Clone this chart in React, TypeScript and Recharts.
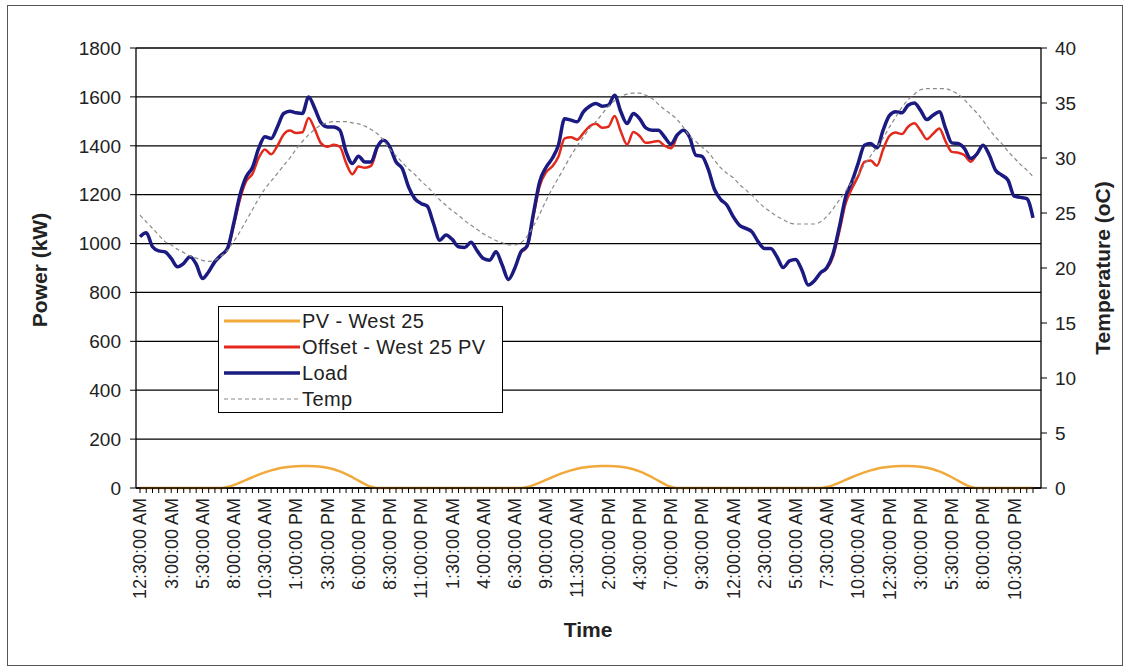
import { LineChart, Line, XAxis, YAxis, CartesianGrid, Legend } from "recharts";

// x tick labels, one every 5 half-hour slots
const tickLabels = [
  "12:30:00 AM", "3:00:00 AM", "5:30:00 AM", "8:00:00 AM", "10:30:00 AM",
  "1:00:00 PM", "3:30:00 PM", "6:00:00 PM", "8:30:00 PM", "11:00:00 PM",
  "1:30:00 AM", "4:00:00 AM", "6:30:00 AM", "9:00:00 AM", "11:30:00 AM",
  "2:00:00 PM", "4:30:00 PM", "7:00:00 PM", "9:30:00 PM", "12:00:00 AM",
  "2:30:00 AM", "5:00:00 AM", "7:30:00 AM", "10:00:00 AM", "12:30:00 PM",
  "3:00:00 PM", "5:30:00 PM", "8:00:00 PM", "10:30:00 PM",
];

// Load (kW), half-hourly
const load = [
  1028, 1044, 987, 970, 966, 939, 905, 919, 946, 916, 857, 885,
  926, 953, 980, 1082, 1198, 1273, 1311, 1389, 1437, 1430, 1477, 1532,
  1541, 1535, 1532, 1600, 1552, 1494, 1477, 1477, 1464, 1375, 1328, 1357,
  1334, 1334, 1396, 1423, 1396, 1334, 1307, 1232, 1184, 1164, 1153, 1082,
  1014, 1035, 1017, 987, 984, 1005, 970, 939, 932, 966, 912, 853,
  898, 966, 991, 1123, 1253, 1311, 1348, 1402, 1511, 1505, 1498, 1539,
  1562, 1573, 1562, 1566, 1607, 1539, 1491, 1532, 1511, 1473, 1464, 1464,
  1436, 1407, 1443, 1464, 1436, 1362, 1357, 1303, 1221, 1180, 1157, 1110,
  1075, 1062, 1048, 1007, 980, 980, 946, 902, 929, 935, 891, 830,
  848, 881, 902, 960, 1069, 1191, 1253, 1328, 1402, 1409, 1392, 1464,
  1523, 1539, 1535, 1566, 1575, 1545, 1507, 1525, 1539, 1471, 1412, 1409,
  1389, 1348, 1366, 1402, 1362, 1300, 1280, 1259, 1194, 1189, 1184, 1105,
];

// PV - West 25 (kW)
const pv = [
  0, 0, 0, 0, 0, 0, 0, 0, 0, 0, 0, 0, 0,
  0, 4, 12, 22, 33, 44, 55, 64, 72, 79, 84, 87, 89, 90, 90, 89, 87, 83, 77, 68, 57, 44, 30, 16, 5, 0,
  0, 0, 0, 0, 0, 0, 0, 0, 0, 0, 0, 0, 0, 0, 0, 0, 0, 0, 0, 0, 0, 0,
  0, 4, 12, 22, 33, 44, 55, 64, 72, 79, 84, 87, 89, 90, 90, 89, 87, 83, 77, 68, 57, 44, 30, 16, 5, 0,
  0, 0, 0, 0, 0, 0, 0, 0, 0, 0, 0, 0, 0, 0, 0, 0, 0, 0, 0, 0, 0, 0,
  0, 4, 12, 22, 33, 44, 55, 64, 72, 79, 84, 87, 89, 90, 90, 89, 87, 83, 77, 68, 57, 44, 30, 16, 5, 0,
  0, 0, 0, 0, 0, 0, 0, 0, 0,
];

// Offset - West 25 PV (kW), only shown while PV is producing
const offset = [
  null, null, null, null, null, null, null, null, null, null, null, null, null,
  953, 976, 1072, 1180, 1255, 1285, 1350, 1385, 1365, 1400, 1446, 1462, 1452,
  1455, 1514, 1467, 1410, 1396, 1404, 1396, 1330, 1284, 1315, 1310, 1318, 1396,
  null, null, null, null, null, null, null, null, null, null, null,
  null, null, null, null, null, null, null, null, null, null, null,
  966, 987, 1111, 1235, 1290, 1315, 1355, 1430, 1435, 1425, 1452, 1480, 1490,
  1474, 1478, 1522, 1458, 1405, 1456, 1440, 1412, 1415, 1420, 1400, 1390, 1443,
  null, null, null, null, null, null, null, null, null, null, null,
  null, null, null, null, null, null, null, null, null, null, null,
  881, 898, 948, 1050, 1165, 1225, 1275, 1334, 1340, 1318, 1385, 1440, 1454,
  1448, 1478, 1492, 1462, 1427, 1449, 1471, 1418, 1375, 1372, 1362, 1335, 1366,
  null, null, null, null, null, null, null, null, null,
];

// Temp (oC)
const temp = [
  24.8, 24.2, 23.6, 23.0, 22.4, 22.1, 21.7, 21.4, 21.1, 20.9, 20.7, 20.6,
  20.7, 21.1, 21.6, 22.4, 23.3, 24.3, 25.3, 26.3, 27.2, 27.9, 28.6, 29.3,
  30.0, 30.8, 31.5, 32.1, 32.6, 33.0, 33.2, 33.3, 33.3, 33.3, 33.2, 33.1,
  32.9, 32.6, 32.2, 31.6, 30.8, 30.2, 29.6, 29.0, 28.5, 27.9, 27.4, 26.8,
  26.2, 25.7, 25.2, 24.8, 24.3, 23.9, 23.5, 23.1, 22.8, 22.5, 22.3, 22.1,
  22.1, 22.3, 22.9, 23.8, 24.9, 26.1, 27.2, 28.2, 29.2, 30.2, 31.1, 31.9,
  32.7, 33.3, 34.0, 34.7, 35.2, 35.6, 35.8, 35.9, 35.9, 35.7, 35.4, 34.9,
  34.4, 34.0, 33.5, 32.8, 32.0, 31.5, 31.0, 30.5, 29.8, 29.1, 28.6, 28.2,
  27.6, 27.1, 26.6, 26.0, 25.5, 25.1, 24.7, 24.4, 24.1, 24.0, 24.0, 24.0,
  24.0, 24.2, 24.7, 25.4, 26.2, 27.0, 27.8, 28.5, 29.4, 30.2, 31.0, 31.8,
  32.8, 33.7, 34.6, 35.3, 35.8, 36.2, 36.3, 36.3, 36.3, 36.3, 36.1, 35.8,
  35.3, 34.7, 34.1, 33.4, 32.6, 31.9, 31.3, 30.6, 30.0, 29.4, 28.9, 28.3,
];

const powerTicks = [0, 200, 400, 600, 800, 1000, 1200, 1400, 1600, 1800];
const tempTicks = [0, 5, 10, 15, 20, 25, 30, 35, 40];

const data = load.map((v, i) => ({
  slot: i,
  load: v,
  pv: pv[i],
  offset: offset[i],
  temp: temp[i],
}));

const FONT = "'Liberation Sans', Arial, sans-serif";

// legend keeps the series order of the original
const legendOrder = ["pv", "offset", "load", "temp"];
const legendStyles: Record<string, { width: number; dash?: string }> = {
  pv: { width: 3 },
  offset: { width: 3 },
  load: { width: 3.5 },
  temp: { width: 1.2, dash: "4 3" },
};

function TimeTick(props: any) {
  const { x, y, payload } = props;
  const i = payload.value as number;
  if (i % 5 !== 0) return <g />;
  return (
    <text
      x={0}
      y={0}
      transform={`translate(${x},${y + 3}) rotate(-90)`}
      textAnchor="end"
      dy="0.35em"
      fontSize={18}
      fill="#222"
      fontFamily={FONT}
    >
      {tickLabels[i / 5]}
    </text>
  );
}

function LegendBox({ payload }: any) {
  const items = [...(payload || [])].sort(
    (a: any, b: any) => legendOrder.indexOf(a.dataKey) - legendOrder.indexOf(b.dataKey)
  );
  return (
    <div
      style={{
        width: 285,
        height: 107,
        border: "1.5px solid #000",
        background: "#fff",
        boxSizing: "border-box",
        padding: "1px 5px",
        fontFamily: FONT,
        fontSize: 20,
        color: "#222",
      }}
    >
      {items.map((p: any) => {
        const st = legendStyles[p.dataKey] || { width: 2 };
        return (
          <div key={p.dataKey} style={{ display: "flex", alignItems: "center", height: 26 }}>
            <svg width={78} height={10} style={{ flexShrink: 0 }}>
              <line x1={0} y1={5} x2={76} y2={5} stroke={p.color} strokeWidth={st.width} strokeDasharray={st.dash} />
            </svg>
            <span style={{ lineHeight: "26px", letterSpacing: 0.4 }}>{p.value}</span>
          </div>
        );
      })}
    </div>
  );
}

export default function App() {
  return (
    <div
      style={{
        position: "absolute",
        left: 7,
        top: 5,
        width: 1114,
        height: 659,
        border: "1px solid #555",
        background: "#fff",
        fontFamily: FONT,
      }}
    >
      <LineChart width={1114} height={659} data={data} margin={{ top: 42, right: 20, bottom: 77, left: 20 }}>
        <CartesianGrid yAxisId="left" vertical={false} stroke="#000" strokeWidth={1.3} />
        <XAxis
          dataKey="slot"
          interval={0}
          tick={<TimeTick />}
          tickSize={5}
          height={100}
          padding={{ left: 4, right: 8 }}
          axisLine={{ stroke: "#000", strokeWidth: 1.3 }}
          tickLine={{ stroke: "#000" }}
        />
        <YAxis
          yAxisId="left"
          domain={[0, 1800]}
          ticks={powerTicks}
          width={108}
          tickSize={6}
          tickMargin={9}
          axisLine={{ stroke: "#000", strokeWidth: 1.3 }}
          tickLine={{ stroke: "#000" }}
          tick={{ fontSize: 19, fill: "#222", fontFamily: FONT }}
        />
        <YAxis
          yAxisId="right"
          orientation="right"
          domain={[0, 40]}
          ticks={tempTicks}
          width={61}
          tickSize={6}
          tickMargin={8}
          axisLine={{ stroke: "#000", strokeWidth: 1.3 }}
          tickLine={{ stroke: "#000" }}
          tick={{ fontSize: 19, fill: "#222", fontFamily: FONT }}
        />
        <Legend
          layout="vertical"
          align="center"
          verticalAlign="middle"
          content={<LegendBox />}
          wrapperStyle={{ left: 210, top: 300, width: 285, height: 107 }}
        />
        <Line
          yAxisId="left"
          type="monotone"
          dataKey="pv"
          name="PV - West 25"
          stroke="#F2A93B"
          strokeWidth={2.5}
          dot={false}
          isAnimationActive={false}
        />
        <Line
          yAxisId="left"
          type="monotone"
          dataKey="offset"
          name="Offset - West 25 PV"
          stroke="#E3291B"
          strokeWidth={2.5}
          dot={false}
          isAnimationActive={false}
        />
        <Line
          yAxisId="left"
          type="monotone"
          dataKey="load"
          name="Load"
          stroke="#1A1A80"
          strokeWidth={3.5}
          dot={false}
          isAnimationActive={false}
        />
        <Line
          yAxisId="right"
          type="monotone"
          dataKey="temp"
          name="Temp"
          stroke="#8a8a8a"
          strokeWidth={1.2}
          strokeDasharray="4 3"
          dot={false}
          isAnimationActive={false}
        />
      </LineChart>

      <div
        style={{
          position: "absolute",
          left: 32,
          top: 264,
          transform: "translate(-50%, -50%) rotate(-90deg)",
          whiteSpace: "nowrap",
          fontWeight: "bold",
          fontSize: 21,
          color: "#222",
        }}
      >
        Power (kW)
      </div>
      <div
        style={{
          position: "absolute",
          left: 1095,
          top: 262,
          transform: "translate(-50%, -50%) rotate(-90deg)",
          whiteSpace: "nowrap",
          fontWeight: "bold",
          fontSize: 21,
          color: "#222",
        }}
      >
        Temperature (oC)
      </div>
      <div
        style={{
          position: "absolute",
          left: 580,
          top: 624,
          transform: "translate(-50%, -50%)",
          whiteSpace: "nowrap",
          fontWeight: "bold",
          fontSize: 21,
          color: "#222",
        }}
      >
        Time
      </div>
    </div>
  );
}
